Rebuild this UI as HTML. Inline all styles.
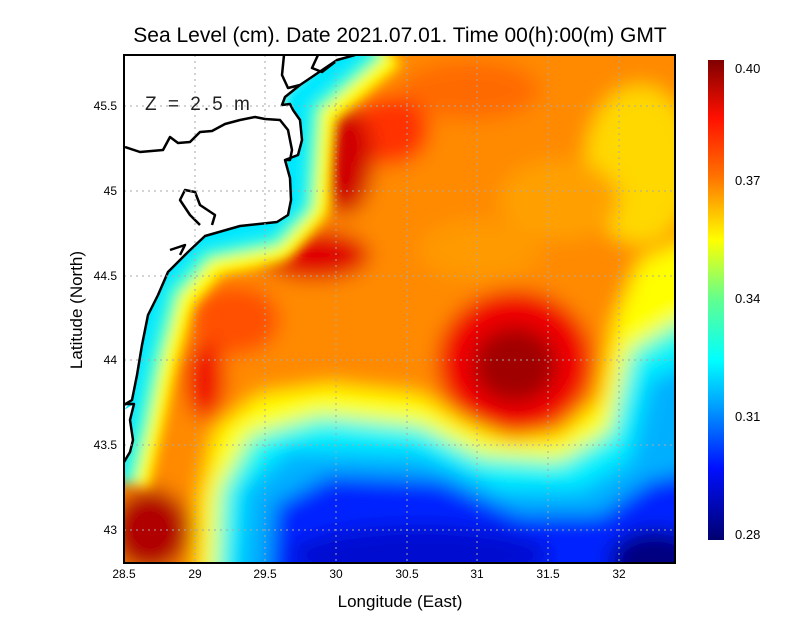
<!DOCTYPE html>
<html><head><meta charset="utf-8"><style>
html,body{margin:0;padding:0;background:#fff;width:800px;height:618px;overflow:hidden;}
svg{display:block;font-family:"Liberation Sans",sans-serif;}
</style></head><body>
<svg width="800" height="618" viewBox="0 0 800 618" xmlns="http://www.w3.org/2000/svg">
<defs>
<clipPath id="pc"><rect x="124" y="55" width="551" height="508"/></clipPath>
<filter id="bl" x="-20%" y="-20%" width="140%" height="140%"><feGaussianBlur stdDeviation="10"/></filter>
<filter id="bl2" x="-20%" y="-20%" width="140%" height="140%"><feGaussianBlur stdDeviation="6"/></filter>
<linearGradient id="cb" x1="0" y1="0" x2="0" y2="1">
<stop offset="0" stop-color="#800000"/>
<stop offset="0.12" stop-color="#ff1000"/>
<stop offset="0.24" stop-color="#ff7000"/>
<stop offset="0.375" stop-color="#ffff00"/>
<stop offset="0.5" stop-color="#60ff90"/>
<stop offset="0.625" stop-color="#00ffff"/>
<stop offset="0.72" stop-color="#00a0ff"/>
<stop offset="0.85" stop-color="#0010ff"/>
<stop offset="1" stop-color="#000070"/>
</linearGradient>
</defs>
<text x="400" y="42" font-size="21" text-anchor="middle" fill="#000">Sea Level (cm). Date 2021.07.01. Time 00(h):00(m) GMT</text>
<g clip-path="url(#pc)">
<g filter="url(#bl)">
<rect x="60" y="0" width="700" height="650" fill="#ff8a00"/>
<ellipse cx="640" cy="165" rx="55" ry="80" fill="#ffd800"/>
<ellipse cx="560" cy="200" rx="60" ry="40" fill="#ffa000"/>
<ellipse cx="470" cy="90" rx="70" ry="30" fill="#ff6a00"/>
<ellipse cx="480" cy="250" rx="60" ry="30" fill="#ff9a00"/>
<ellipse cx="390" cy="130" rx="40" ry="35" fill="#ff3000"/>
<ellipse cx="345" cy="160" rx="28" ry="55" fill="#d00000"/>
<ellipse cx="315" cy="255" rx="55" ry="25" fill="#e00000"/>
<ellipse cx="235" cy="320" rx="45" ry="35" fill="#ff5000"/>
<ellipse cx="205" cy="380" rx="20" ry="40" fill="#f01000"/>
<path d="M195,620 L200,500 L215,430 L260,395 L330,385 L420,395 L460,420 L510,440 L560,435 L600,400 L615,320 L640,260 L700,235 L700,620 Z" fill="#ffff00"/>
<path d="M213,620 L220,490 L250,435 L320,415 L420,425 L480,455 L560,460 L610,430 L630,350 L680,320 L700,320 L700,620 Z" fill="#30ffd0"/>
<path d="M222,620 L230,490 L265,442 L330,425 L420,435 L480,465 L560,470 L615,440 L636,360 L690,335 L700,335 L700,620 Z" fill="#00f0ff"/>
<path d="M235,620 L245,490 L290,450 L420,455 L500,490 L580,490 L630,460 L650,380 L700,360 L700,620 Z" fill="#00b0ff"/>
<path d="M265,620 L275,505 L330,475 L440,480 L520,515 L600,515 L650,480 L700,470 L700,620 Z" fill="#0020ff"/>
<ellipse cx="420" cy="555" rx="130" ry="30" fill="#0008d0"/>
<ellipse cx="655" cy="560" rx="45" ry="30" fill="#000080"/>
<ellipse cx="515" cy="362" rx="78" ry="72" fill="#f00000"/>
<ellipse cx="515" cy="365" rx="42" ry="38" fill="#a00000"/>
<ellipse cx="150" cy="530" rx="40" ry="42" fill="#b00000"/>
</g>
<g filter="url(#bl2)" fill="none" stroke-linejoin="round">
<polyline points="380,40 305,105 298,200 272,232 205,245 165,290 145,360 132,420 118,480" stroke="#ffff00" stroke-width="64"/>
<polyline points="370,40 300,100 293,200 268,227 200,240 160,285 140,360 128,420 114,480" stroke="#40ffc0" stroke-width="44"/>
<polyline points="365,40 297,98 290,200 266,224 196,238 156,283 136,360 124,420 110,480" stroke="#00e8ff" stroke-width="28"/>
</g>
<path d="M124,55 L355,55 L337,60 L285,97 L282,105 L290,104 L293,110 L300,120 L302,140 L298,155 L285,160 L290,178 L291,200 L288,215 L277,222 L240,226 L205,236 L188,252 L168,272 L158,295 L148,315 L142,345 L137,375 L132,400 L124,410 Z" fill="#fff"/>
<path d="M124,410 L134,404 L130,420 L133,440 L130,452 L124,462 Z" fill="#fff"/>
<g fill="none" stroke="#000" stroke-width="2.5" stroke-linejoin="round">
<polyline points="355,55 337,60 300,85 285,97 282,105 290,104 293,110 300,120 302,140 298,155 285,160 290,178 291,200 288,215 277,222 240,226 205,236 188,252 168,272 158,295 148,315 142,345 137,375 132,400 124,405"/>
<polyline points="125,147 140,152 163,150 170,137 178,143 190,142 200,132 212,131 225,124 240,120 255,117 265,119 280,120 288,130 292,150 290,160 285,160"/>
<polyline points="124,404 134,404 130,420 133,440 130,452 124,462"/>
<polyline points="284,55 282,75 288,88 300,85"/>
<polyline points="318,55 312,68 322,72 335,62"/>
<polyline points="200,225 190,215 180,200 185,190 195,192 200,205 215,215 212,225"/>
<polyline points="170,250 185,245 180,255"/>
</g>
</g>
<g stroke="#a8a8a8" stroke-width="1" stroke-dasharray="2,4">
<line x1="195" y1="55" x2="195" y2="563"/><line x1="265" y1="55" x2="265" y2="563"/>
<line x1="336" y1="55" x2="336" y2="563"/><line x1="407" y1="55" x2="407" y2="563"/>
<line x1="477" y1="55" x2="477" y2="563"/><line x1="548" y1="55" x2="548" y2="563"/>
<line x1="619" y1="55" x2="619" y2="563"/>
<line x1="124" y1="106" x2="675" y2="106"/><line x1="124" y1="191" x2="675" y2="191"/>
<line x1="124" y1="276" x2="675" y2="276"/><line x1="124" y1="360" x2="675" y2="360"/>
<line x1="124" y1="445" x2="675" y2="445"/><line x1="124" y1="530" x2="675" y2="530"/>
</g>
<rect x="124" y="55" width="551" height="508" fill="none" stroke="#000" stroke-width="2"/>
<text x="145" y="110" font-size="19" fill="#222" letter-spacing="3">Z = 2.5 m</text>
<g font-size="12" fill="#000" text-anchor="middle">
<text x="124" y="578">28.5</text><text x="195" y="578">29</text><text x="265" y="578">29.5</text>
<text x="336" y="578">30</text><text x="407" y="578">30.5</text><text x="477" y="578">31</text>
<text x="548" y="578">31.5</text><text x="619" y="578">32</text>
</g>
<g font-size="12" fill="#000" text-anchor="end">
<text x="117" y="110">45.5</text><text x="117" y="195">45</text><text x="117" y="280">44.5</text>
<text x="117" y="364">44</text><text x="117" y="449">43.5</text><text x="117" y="534">43</text>
</g>
<text x="400" y="607" font-size="17" text-anchor="middle">Longitude (East)</text>
<text transform="translate(82,310) rotate(-90)" font-size="17" text-anchor="middle">Latitude (North)</text>
<rect x="708" y="60" width="16" height="480" fill="url(#cb)"/>
<g font-size="13" fill="#000">
<text x="735" y="73">0.40</text><text x="735" y="185">0.37</text><text x="735" y="303">0.34</text>
<text x="735" y="421">0.31</text><text x="735" y="539">0.28</text>
</g>
</svg>
</body></html>
